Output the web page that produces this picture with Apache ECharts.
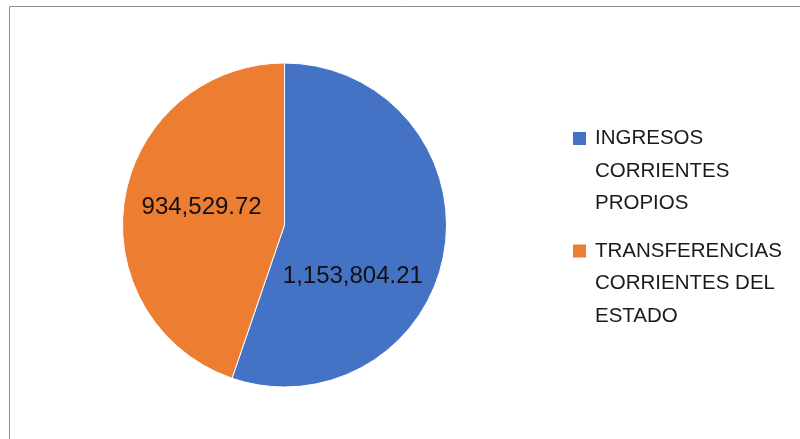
<!DOCTYPE html>
<html>
<head>
<meta charset="utf-8">
<script src="https://cdn.jsdelivr.net/npm/echarts@6/dist/echarts.min.js"></script>
<style>
  html, body { margin: 0; padding: 0; background: #ffffff; }
  #chart { width: 800px; height: 439px; }
</style>
</head>
<body>
<div id="chart"></div>
<script>
const categories = ['INGRESOS CORRIENTES PROPIOS', 'TRANSFERENCIAS CORRIENTES DEL ESTADO'];
const legendLabels = ['INGRESOS\nCORRIENTES\nPROPIOS', 'TRANSFERENCIAS\nCORRIENTES DEL\nESTADO'];
const values = [1153804.21, 934529.72];
const colors = ['#4472C4', '#ED7D31'];
const labelShift = [[-14.5, 38], [0, -4]];

const fmt = v => v.toLocaleString('en-US', { minimumFractionDigits: 2, maximumFractionDigits: 2 });

const chart = echarts.init(document.getElementById('chart'), null, { renderer: 'canvas' });
chart.setOption({
  animation: false,
  backgroundColor: '#ffffff',
  graphic: [{
    type: 'rect',
    silent: true,
    shape: { x: 9.5, y: 6.5, width: 820, height: 460 },
    style: { fill: 'none', stroke: '#8f8f8f', lineWidth: 1 }
  }],
  legend: {
    orient: 'vertical',
    left: 573,
    top: 57.25,
    padding: 0,
    itemGap: -50,
    itemWidth: 17,
    itemHeight: 13,
    icon: 'path://M0,0h13v13h-13zM17,0L17,0',
    symbolKeepAspect: false,
    itemStyle: { borderWidth: 0 },
    data: categories,
    formatter: name => '\n\n' + legendLabels[categories.indexOf(name)],
    textStyle: {
      fontFamily: 'Liberation Sans',
      fontSize: 20.5,
      lineHeight: 32.5,
      color: '#1a1a1a'
    }
  },
  series: [{
    type: 'pie',
    center: [284.5, 225],
    radius: 162,
    startAngle: 90,
    clockwise: true,
    color: colors,
    itemStyle: { borderColor: '#ffffff', borderWidth: 1 },
    label: {
      show: true,
      position: 'inside',
      fontFamily: 'Liberation Sans',
      fontSize: 24,
      color: '#111111',
      formatter: p => fmt(p.value)
    },
    labelLine: { show: false },
    labelLayout: p => ({ dx: labelShift[p.dataIndex][0], dy: labelShift[p.dataIndex][1] }),
    emphasis: { disabled: true },
    data: categories.map((c, i) => ({ name: c, value: values[i] }))
  }]
});
</script>
</body>
</html>
